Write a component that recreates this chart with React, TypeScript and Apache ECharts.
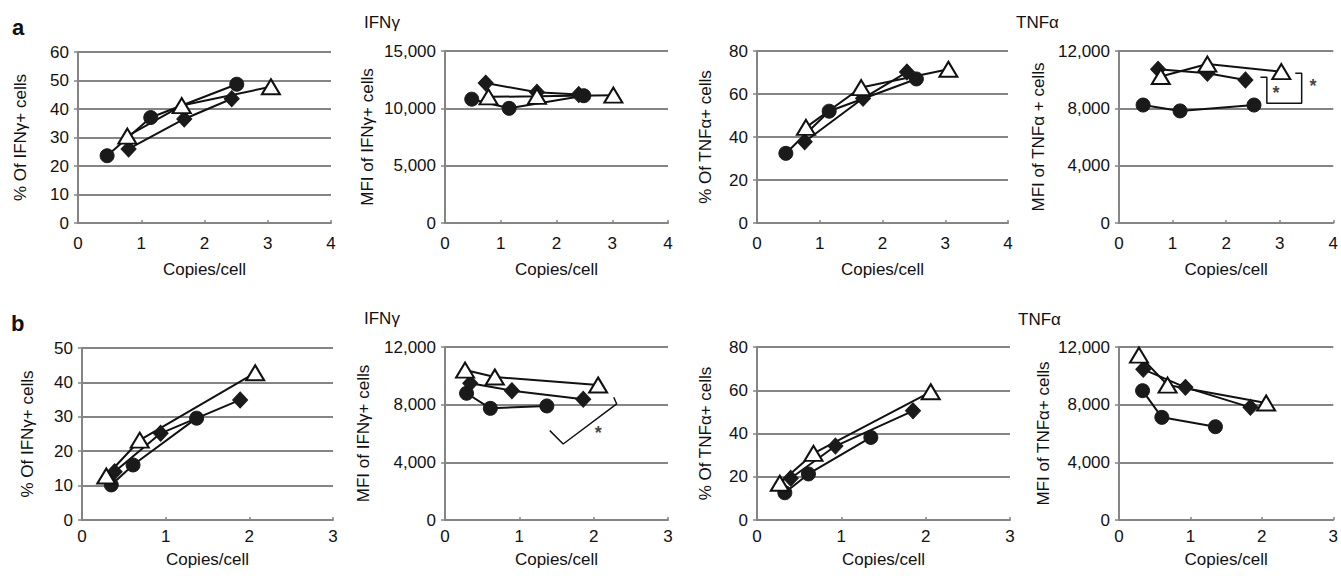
import React, { useEffect, useRef } from "react";
import * as echarts from "echarts";

// ---------- data (x = copies/cell, y = value) ----------
// Row a
const a1Circle = [[0.46, 23.6], [1.15, 37], [2.51, 48.7]];
const a1Diamond = [[0.8, 26], [1.68, 36.5], [2.43, 43.6]];
const a1Triangle = [[0.78, 30.5], [1.64, 41.2], [3.05, 47.8]];

const a2Circle = [[0.48, 10800], [1.15, 10000], [2.49, 11100]];
const a2Diamond = [[0.73, 12200], [1.65, 11400], [2.4, 11200]];
const a2Triangle = [[0.78, 11000], [1.65, 11050], [3.02, 11150]];

const a3Circle = [[0.46, 32.4], [1.15, 52], [2.54, 67]];
const a3Diamond = [[0.76, 37.8], [1.69, 58], [2.39, 70.2]];
const a3Triangle = [[0.78, 44.5], [1.66, 63], [3.05, 71.5]];

const a4Circle = [[0.45, 8230], [1.14, 7820], [2.52, 8230]];
const a4Diamond = [[0.73, 10720], [1.65, 10440], [2.36, 9980]];
const a4Triangle = [[0.78, 10220], [1.65, 11090], [3.03, 10560]];

// Row b
const b1Circle = [[0.35, 10.2], [0.61, 16], [1.37, 29.6]];
const b1Diamond = [[0.39, 14], [0.94, 25.2], [1.89, 34.9]];
const b1Triangle = [[0.29, 12.8], [0.69, 23.2], [2.07, 42.8]];

const b2Circle = [[0.29, 8790], [0.61, 7745], [1.37, 7910]];
const b2Diamond = [[0.34, 9480], [0.9, 8970], [1.86, 8370]];
const b2Triangle = [[0.27, 10400], [0.67, 9920], [2.06, 9365]];

const b3Circle = [[0.33, 12.6], [0.61, 21.3], [1.35, 38.2]];
const b3Diamond = [[0.4, 19.3], [0.93, 34.2], [1.85, 50.5]];
const b3Triangle = [[0.27, 17], [0.67, 30.8], [2.06, 59.3]];

const b4Circle = [[0.33, 8970], [0.6, 7120], [1.35, 6470]];
const b4Diamond = [[0.34, 10450], [0.93, 9200], [1.84, 7815]];
const b4Triangle = [[0.28, 11440], [0.68, 9360], [2.06, 8115]];

// significance annotations (data coordinates)
const a4Bracket = [[2.64, 10165], [2.76, 10165], [2.76, 8350], [3.41, 8350], [3.41, 10445], [3.29, 10445]];
const a4Stars = [[2.93, 9050], [3.62, 9550]];
const b2Bracket = [[2.27, 8510], [2.31, 8050], [1.59, 5270], [1.41, 6200]];
const b2Stars = [[2.06, 6050]];

// axis settings
const yNames = [
  "% Of IFNγ+ cells", "MFI of IFNγ+ cells", "% Of TNFα+ cells", "MFI of TNFα + cells",
  "% Of IFNγ+ cells", "MFI of IFNγ+ cells", "% Of TNFα+ cells", "MFI of TNFα+ cells",
];
const yMax = [60, 15000, 80, 12000, 50, 12000, 80, 12000];
const yStep = [10, 5000, 20, 4000, 10, 4000, 20, 4000];
const xMax = [4, 4, 4, 4, 3, 3, 3, 3];
const xName = "Copies/cell";
const panelTitles = ["IFNγ", "TNFα", "IFNγ", "TNFα"];
const rowLetters = ["a", "b"];

const circles = [a1Circle, a2Circle, a3Circle, a4Circle, b1Circle, b2Circle, b3Circle, b4Circle];
const diamonds = [a1Diamond, a2Diamond, a3Diamond, a4Diamond, b1Diamond, b2Diamond, b3Diamond, b4Diamond];
const triangles = [a1Triangle, a2Triangle, a3Triangle, a4Triangle, b1Triangle, b2Triangle, b3Triangle, b4Triangle];

// layout (pixels)
const gridBoxes = [
  { left: 78, top: 52, width: 253, height: 171 },
  { left: 445, top: 51, width: 223, height: 172 },
  { left: 757, top: 51, width: 251, height: 172 },
  { left: 1119, top: 51, width: 216, height: 172 },
  { left: 82, top: 348, width: 251, height: 172 },
  { left: 445, top: 347, width: 223, height: 173 },
  { left: 757, top: 347, width: 253, height: 173 },
  { left: 1119, top: 347, width: 217, height: 173 },
];
const yNameGaps = [49, 69, 43, 72, 46, 73, 43, 67];
const FONT = "'Liberation Sans', Arial, Helvetica, sans-serif";
const FS = 17;
const GRAY = "#858585";

export default function App() {
  const ref = useRef<HTMLDivElement>(null);
  useEffect(() => {
    document.body.style.margin = "0";
    const chart = echarts.init(ref.current!, null, { renderer: "svg" });
    const grid: any[] = [];
    const xAxis: any[] = [];
    const yAxis: any[] = [];
    const series: any[] = [];
    for (let i = 0; i < 8; i++) {
      const rowB = i >= 4;
      grid.push({ ...gridBoxes[i], containLabel: false });
      xAxis.push({
        type: "value",
        gridIndex: i,
        min: 0,
        max: xMax[i],
        interval: 1,
        name: xName,
        nameLocation: "middle",
        nameGap: rowB ? 31 : 38,
        nameTextStyle: { fontFamily: FONT, fontSize: FS, color: "#111" },
        axisLine: { show: true, lineStyle: { color: GRAY, width: 2 } },
        axisTick: { show: true, inside: true, length: 3, lineStyle: { color: GRAY, width: 1.5 } },
        axisLabel: { fontFamily: FONT, fontSize: FS, color: "#111", margin: rowB ? 8 : 12 },
        splitLine: { show: false },
      });
      yAxis.push({
        type: "value",
        gridIndex: i,
        min: 0,
        max: yMax[i],
        interval: yStep[i],
        name: yNames[i],
        nameLocation: "middle",
        nameGap: yNameGaps[i],
        nameTextStyle: { fontFamily: FONT, fontSize: FS, color: "#111" },
        axisLine: { show: true, lineStyle: { color: GRAY, width: 2 } },
        axisTick: { show: true, length: 4, lineStyle: { color: GRAY, width: 1.5 } },
        axisLabel: {
          fontFamily: FONT,
          fontSize: FS,
          color: "#111",
          margin: 9,
          formatter: (v: number) => v.toLocaleString("en-US"),
        },
        splitLine: { show: true, lineStyle: { color: GRAY, width: 2 } },
      });
      const common = {
        type: "line",
        xAxisIndex: i,
        yAxisIndex: i,
        lineStyle: { color: "#111", width: 2 },
        silent: true,
      };
      series.push({
        ...common,
        data: circles[i],
        symbol: "circle",
        symbolSize: 14,
        itemStyle: { color: "#1a1a1a", borderColor: "#1a1a1a", borderWidth: 1 },
      });
      series.push({
        ...common,
        data: diamonds[i],
        symbol: "diamond",
        symbolSize: [15, 16],
        itemStyle: { color: "#1a1a1a", borderColor: "#1a1a1a", borderWidth: 1 },
      });
      series.push({
        ...common,
        data: triangles[i],
        symbol: "triangle",
        symbolSize: [18, 15],
        itemStyle: { color: "#ffffff", borderColor: "#111", borderWidth: 2 },
      });
    }
    // annotations
    series.push({
      type: "line",
      xAxisIndex: 3,
      yAxisIndex: 3,
      data: a4Bracket,
      symbol: "none",
      lineStyle: { color: "#111", width: 1.5 },
      silent: true,
    });
    series.push({
      type: "line",
      xAxisIndex: 5,
      yAxisIndex: 5,
      data: b2Bracket,
      symbol: "none",
      lineStyle: { color: "#111", width: 1.5 },
      silent: true,
    });
    const starSeries = (idx: number, pts: number[][]) => ({
      type: "scatter",
      xAxisIndex: idx,
      yAxisIndex: idx,
      data: pts,
      symbolSize: 1,
      itemStyle: { color: "rgba(0,0,0,0)" },
      label: {
        show: true,
        position: "inside",
        formatter: "*",
        fontFamily: FONT,
        fontSize: 18,
        fontWeight: "bold",
        color: "#111111",
        textBorderWidth: 0,
        textBorderColor: "transparent",
      },
      silent: true,
    });
    series.push(starSeries(3, a4Stars));
    series.push(starSeries(5, b2Stars));

    const graphic: any[] = [
      { type: "text", left: 12, top: 16, style: { text: rowLetters[0], font: `bold 22px ${FONT}`, fill: "#111" } },
      { type: "text", left: 11, top: 312, style: { text: rowLetters[1], font: `bold 22px ${FONT}`, fill: "#111" } },
      { type: "text", left: 364, top: 14, style: { text: panelTitles[0], font: `17px ${FONT}`, fill: "#111" } },
      { type: "text", left: 1016, top: 14, style: { text: panelTitles[1], font: `17px ${FONT}`, fill: "#111" } },
      { type: "text", left: 364, top: 310, style: { text: panelTitles[2], font: `17px ${FONT}`, fill: "#111" } },
      { type: "text", left: 1018, top: 311, style: { text: panelTitles[3], font: `17px ${FONT}`, fill: "#111" } },
    ];

    chart.setOption({
      animation: false,
      backgroundColor: "#ffffff",
      grid,
      xAxis,
      yAxis,
      series,
      graphic,
    });
    return () => chart.dispose();
  }, []);
  return <div ref={ref} style={{ width: 1341, height: 576 }} />;
}
